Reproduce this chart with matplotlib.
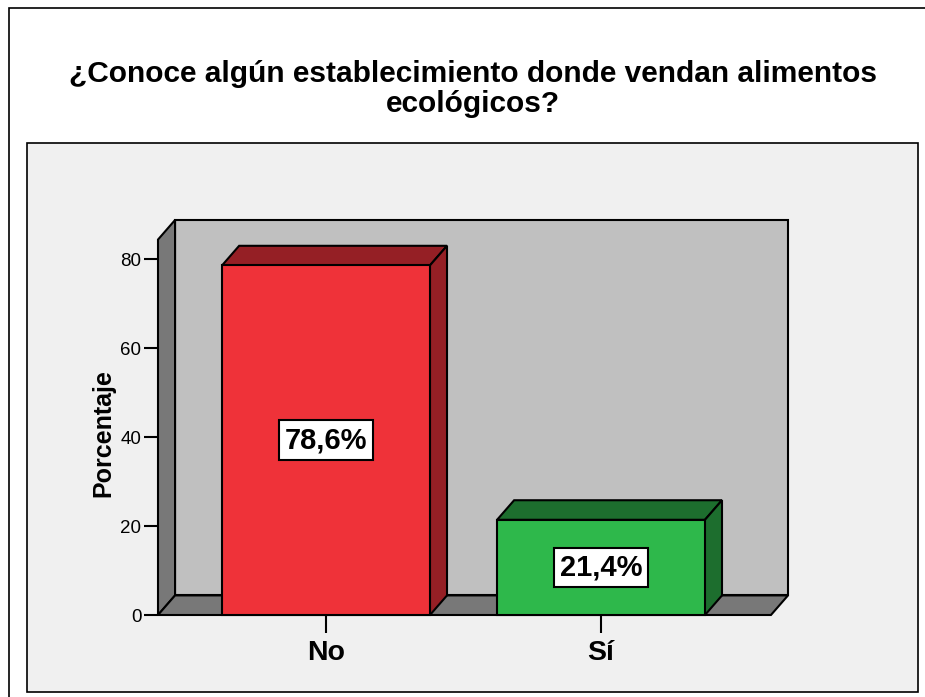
"""SPSS-style 3D bar chart: knowledge of shops selling organic food."""

import matplotlib

matplotlib.use("Agg")

import matplotlib.pyplot as plt
from matplotlib.patches import Polygon, Rectangle

categories = ["No", "Sí"]
percentages = [78.6, 21.4]
value_labels = ["78,6%", "21,4%"]
y_ticks = [0, 20, 40, 60, 80]

TITLE = "¿Conoce algún establecimiento donde vendan alimentos\necológicos?"
Y_LABEL = "Porcentaje"

FRONT_COLORS = ["#ef3239", "#2eb84b"]
SHADE_COLORS = ["#951f25", "#1d6e2e"]
BACK_WALL = "#c0c0c0"
SIDE_WALL = "#787878"
PANEL_BG = "#f0f0f0"

FIG_W, FIG_H, DPI = 925, 697, 100
BAR_WIDTH = 0.756
DEPTH_X = 0.062
DEPTH_Y = 4.4
X_LIM = (-0.611, 1.68)
Y_LIM = (0, 88.8)
LW = 1.5

plt.rcParams["font.family"] = ["Liberation Sans", "DejaVu Sans"]


def px_box(x0, y0, x1, y1):
    """Pixel box (top-left origin) to figure fraction rect."""
    return (x0 / FIG_W, 1 - y1 / FIG_H, (x1 - x0) / FIG_W, (y1 - y0) / FIG_H)


fig = plt.figure(figsize=(FIG_W / DPI, FIG_H / DPI), dpi=DPI)
fig.patch.set_facecolor("white")

# outer frame and chart panel (behind the axes)
l, b, w, h = px_box(9, 8, 940, 720)
fig.patches.append(Rectangle((l, b), w, h, transform=fig.transFigure,
                             facecolor="white", edgecolor="black", lw=1.2, zorder=-2))
l, b, w, h = px_box(27, 143, 918, 692)
fig.patches.append(Rectangle((l, b), w, h, transform=fig.transFigure,
                             facecolor=PANEL_BG, edgecolor="black", lw=1.2, zorder=-1))

fig.text(0.511, 1 - 89 / FIG_H, TITLE, ha="center", va="center",
         fontsize=21.5, fontweight="bold", linespacing=1.08)

ax = fig.add_axes(px_box(158, 220, 788, 615))
ax.set_xlim(*X_LIM)
ax.set_ylim(*Y_LIM)
ax.patch.set_visible(False)
for spine in ax.spines.values():
    spine.set_visible(False)

xl, xr = X_LIM
front_top = Y_LIM[1] - DEPTH_Y

walls = [
    (Rectangle((xl + DEPTH_X, DEPTH_Y), xr - xl - DEPTH_X, front_top), BACK_WALL),
    (Polygon([(xl, 0), (xl, front_top), (xl + DEPTH_X, Y_LIM[1]), (xl + DEPTH_X, DEPTH_Y)]), SIDE_WALL),
    (Polygon([(xl, 0), (xr - DEPTH_X, 0), (xr, DEPTH_Y), (xl + DEPTH_X, DEPTH_Y)]), SIDE_WALL),
]
for patch, color in walls:
    patch.set_facecolor(color)
    patch.set_edgecolor("black")
    patch.set_linewidth(LW)
    patch.set_joinstyle("miter")
    patch.set_clip_on(False)
    ax.add_patch(patch)

for i, (value, front, shade, label) in enumerate(
        zip(percentages, FRONT_COLORS, SHADE_COLORS, value_labels)):
    x0 = i - BAR_WIDTH / 2
    x1 = i + BAR_WIDTH / 2
    faces = [
        (Polygon([(x0, value), (x1, value), (x1 + DEPTH_X, value + DEPTH_Y),
                  (x0 + DEPTH_X, value + DEPTH_Y)]), shade),
        (Polygon([(x1, 0), (x1 + DEPTH_X, DEPTH_Y), (x1 + DEPTH_X, value + DEPTH_Y),
                  (x1, value)]), shade),
        (Rectangle((x0, 0), BAR_WIDTH, value), front),
    ]
    for patch, color in faces:
        patch.set_facecolor(color)
        patch.set_edgecolor("black")
        patch.set_linewidth(LW)
        patch.set_joinstyle("miter")
        patch.set_clip_on(False)
        ax.add_patch(patch)
    ax.text(i, value / 2, label, ha="center", va="center", fontsize=21,
            fontweight="bold",
            bbox=dict(boxstyle="square,pad=0.2", facecolor="white",
                      edgecolor="black", lw=LW))

ax.set_yticks(y_ticks)
ax.tick_params(axis="y", length=10, width=LW, pad=2, labelsize=13.5)
ax.set_xticks(range(len(categories)))
ax.set_xticklabels(categories, fontsize=20.5, fontweight="bold")
ax.tick_params(axis="x", length=13, width=LW, pad=5)

ax.set_ylabel(Y_LABEL, fontsize=18, fontweight="bold", va="center")
ax.yaxis.set_label_coords(-0.087, 0.46)

fig.savefig("out.png", dpi=DPI)
